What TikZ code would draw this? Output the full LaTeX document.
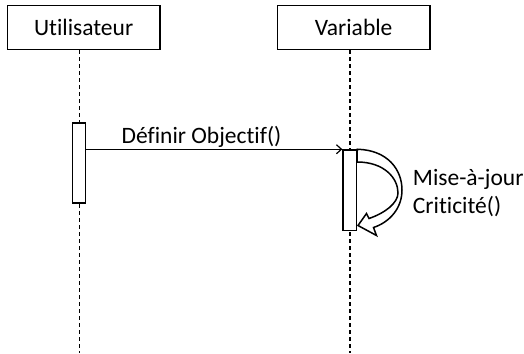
\documentclass[tikz,border=0pt]{standalone}
\usepackage{fontspec}
\setmainfont{Carlito}[Ligatures={NoCommon,NoRequired,NoContextual}]
\usetikzlibrary{arrows.meta}
\begin{document}
\begin{tikzpicture}[x=1pt,y=-1pt,
  lbl/.style={font=\fontsize{23.5}{28}\selectfont, inner sep=0pt},
  objbox/.style={draw, line width=1.5pt, fill=white, minimum width=152.7pt,
    minimum height=43.6pt, inner sep=0pt, font=\fontsize{23.5}{28}\selectfont},
  lifeline/.style={line width=1.2pt, dash pattern=on 4pt off 3pt},
  actbox/.style={draw, line width=1.5pt, fill=white, minimum width=13.4pt, inner sep=0pt},
  msg/.style={line width=1.2pt, -{Straight Barb[length=5pt,width=9pt,line width=1.2pt]}}]
  \useasboundingbox (0,0) rectangle (524,353);

  % participants
  \node[objbox] (user) at (83.65,27.5) {Utilisateur};
  \node[objbox] (var) at (353.65,27.5) {Variable};

  % lifelines
  \coordinate (userEnd) at (79.5,353);
  \coordinate (varEnd) at (350,353);
  \draw[lifeline] (user.south -| userEnd) -- (userEnd);
  \draw[lifeline] (var.south -| varEnd) -- (varEnd);

  % activations
  \node[actbox, minimum height=80pt] (act1) at (79.0,163) {};
  \node[actbox, minimum height=80.7pt] (act2) at (349.8,190.35) {};

  % message
  \draw[msg] (act1.east |- act2.north) -- (act2.north west);
  \node[lbl, anchor=base] (m1) at (201.5,143.3) {Définir Objectif()};

  % self call: curved block arrow
  \draw[line width=1.5pt, fill=white, line join=miter]
    (act2.north east)
    .. controls (388,150) and (402,170) .. (402,190)
    .. controls (402,208) and (390,222) .. (373.5,227.5)
    -- (376.5,235.5) -- (358,225.5) -- (366.5,213.5) -- (369,218.5)
    .. controls (385,213) and (398,203) .. (398,193)
    .. controls (398,178) and (384,162) .. (357.2,162) -- cycle;
  \node[lbl, anchor=base west] (m2a) at (412.7,185) {Mise-à-jour};
  \node[lbl, anchor=base west] (m2b) at (412.7,213.3) {Criticité()};
\end{tikzpicture}
\end{document}
